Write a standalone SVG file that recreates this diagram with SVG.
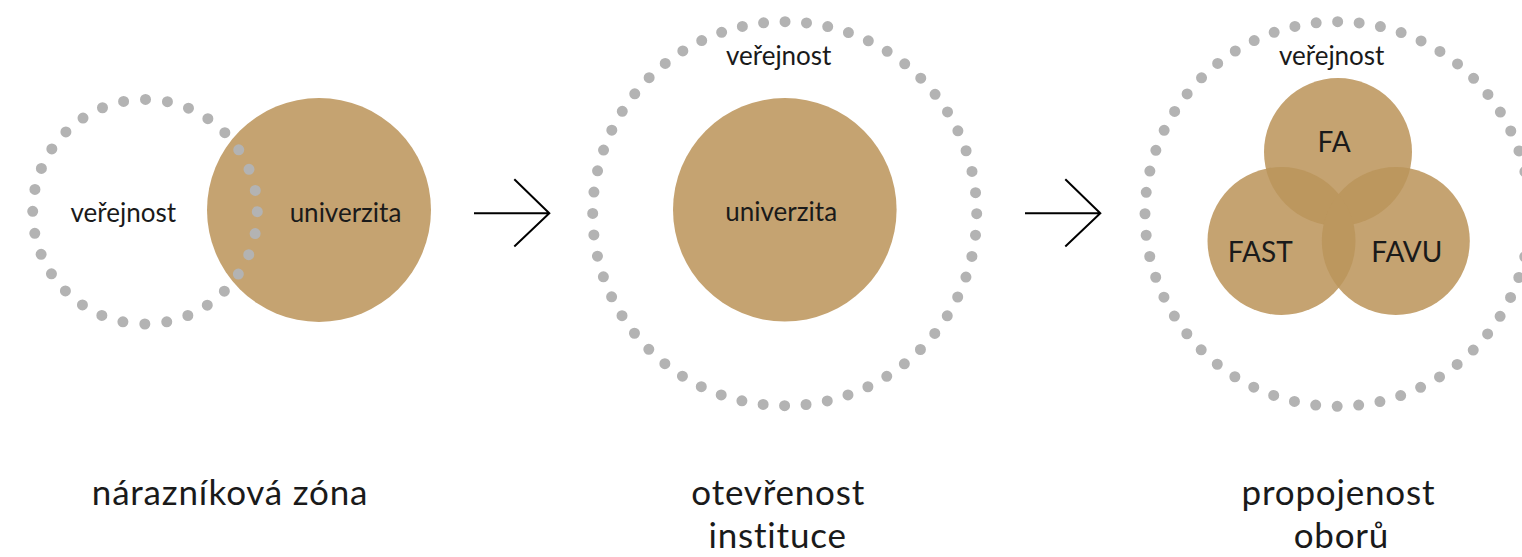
<svg xmlns="http://www.w3.org/2000/svg" width="1522" height="557" viewBox="0 0 1522 557">
  <style>
    .uni { fill: #C5A371; }
    .ovl { fill: #BC975E; }
    .dots { fill: none; stroke: #B3B3B3; stroke-width: 11; stroke-linecap: round; }
    .lbl { font-family: Lato, "Liberation Sans", sans-serif; fill: #1a1a1a; text-anchor: middle; }
    .in { font-size: 26px; }
    .fac { font-size: 28px; }
    .cap { font-size: 35px; letter-spacing: 0.8px; }
    .arrow { fill: none; stroke: #000; stroke-width: 2; }
  </style>
  <defs>
    <clipPath id="cFA"><circle cx="1338" cy="152" r="74"/></clipPath>
    <clipPath id="cFAST"><circle cx="1281.5" cy="241" r="74"/></clipPath>
  </defs>

  <g id="panel1">
    <circle id="p1-univerzita" class="uni" cx="319" cy="210" r="112"/>
    <circle id="p1-verejnost" class="dots" cx="145" cy="211.7" r="112.3" stroke-dasharray="0 22.05"/>
    <text class="lbl in" x="123.3" y="222">veřejnost</text>
    <text class="lbl in" x="345.5" y="222">univerzita</text>
    <text class="lbl cap" x="230" y="505">nárazníková zóna</text>
  </g>

  <g id="panel2">
    <circle id="p2-univerzita" class="uni" cx="784.8" cy="209.8" r="111.8"/>
    <circle id="p2-verejnost" class="dots" cx="784.7" cy="213.7" r="192" stroke-dasharray="0 21.542"/>
    <text class="lbl in" x="778.7" y="65">veřejnost</text>
    <text class="lbl in" x="781.2" y="221">univerzita</text>
    <text class="lbl cap" x="778.2" y="505">otevřenost</text>
    <text class="lbl cap" x="777.6" y="547.5">instituce</text>
  </g>

  <g id="panel3">
    <circle id="p3-verejnost" class="dots" cx="1337.3" cy="214" r="192.3" stroke-dasharray="0 21.576"/>
    <g id="p3-FA"><circle class="uni" cx="1338" cy="152" r="74"/></g>
    <g id="p3-FAST"><circle class="uni" cx="1281.5" cy="241" r="74"/></g>
    <g id="p3-FAVU"><circle class="uni" cx="1395.8" cy="241" r="74"/></g>
    <g id="p3-overlaps">
      <circle class="ovl" cx="1281.5" cy="241" r="74" clip-path="url(#cFA)"/>
      <circle class="ovl" cx="1395.8" cy="241" r="74" clip-path="url(#cFA)"/>
      <circle class="ovl" cx="1395.8" cy="241" r="74" clip-path="url(#cFAST)"/>
    </g>
    <text class="lbl in" x="1331.7" y="65">veřejnost</text>
    <text class="lbl fac" x="1334.2" y="152">FA</text>
    <text class="lbl fac" x="1260.3" y="262.3">FAST</text>
    <text class="lbl fac" x="1406.8" y="262.3">FAVU</text>
    <text class="lbl cap" x="1338.4" y="505">propojenost</text>
    <text class="lbl cap" x="1341.4" y="547.5">oborů</text>
  </g>

  <g id="connectors">
    <path class="arrow" d="M474 213.3 H549.3 M514.3 179.3 L549.3 213.3 L514.3 246.5"/>
    <path class="arrow" d="M1025 213.3 H1100.3 M1065.3 179.3 L1100.3 213.3 L1065.3 246.5"/>
  </g>
</svg>
